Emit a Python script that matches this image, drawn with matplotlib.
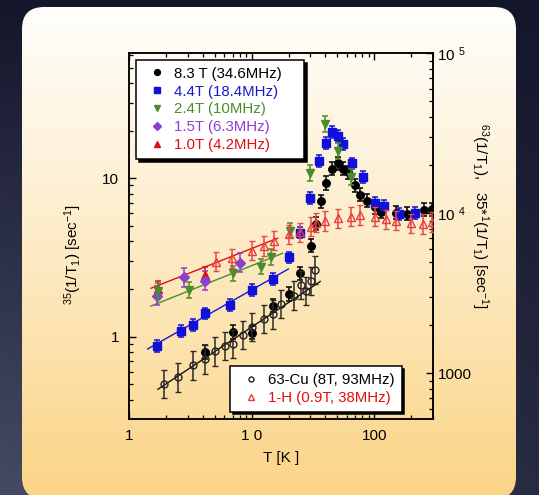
import numpy as np
import matplotlib
matplotlib.use("Agg")
import matplotlib.pyplot as plt
from matplotlib.patches import FancyBboxPatch
from matplotlib.colors import to_rgb
from matplotlib.ticker import FixedLocator, FixedFormatter, LogLocator, NullFormatter

plt.rcParams['font.family'] = ['Liberation Sans', 'DejaVu Sans']
plt.rcParams['mathtext.fontset'] = 'custom'
plt.rcParams['mathtext.rm'] = 'Liberation Sans'
plt.rcParams['mathtext.it'] = 'Liberation Sans:italic'
plt.rcParams['mathtext.default'] = 'regular'

# ---- 35Cl relaxation rate 1/T1 [1/s] (left axis) ----
t_83 = [4.19, 7.01, 10.0, 15.0, 20.2, 25.0, 30.3, 33.2, 36.6, 40.3, 44.9, 50.2,
        55.2, 61.2, 70.2, 76.3, 87.9, 100.7, 113.8, 150, 186, 255, 297]
r_83 = [0.80, 1.07, 1.06, 1.57, 1.86, 2.51, 3.74, 5.15, 7.16, 9.34, 11.5, 12.4,
        11.5, 10.9, 9.03, 7.85, 7.19, 6.56, 6.16, 6.06, 5.98, 6.31, 6.37]

t_44 = [1.70, 2.65, 3.32, 4.19, 6.70, 10.07, 15.0, 20.2, 25.0, 30.1, 35.2, 40.3,
        44.9, 50.5, 55.2, 65.3, 80.4, 100.7, 121, 160, 214]
r_44 = [0.877, 1.09, 1.185, 1.40, 1.585, 1.98, 2.32, 3.16, 4.54, 7.55, 12.9, 16.6,
        19.6, 18.4, 16.4, 12.4, 10.2, 7.02, 6.68, 5.93, 6.01]

t_24 = [1.72, 3.07, 7.01, 12.0, 14.5, 20.7, 30.1, 40.0, 50.5, 64.1]
r_24 = [1.94, 1.97, 2.51, 2.77, 3.17, 4.67, 10.8, 22.0, 14.9, 10.2]

t_15 = [1.70, 2.81, 4.19, 7.98]
r_15 = [1.81, 2.37, 2.26, 2.93]

t_10 = [1.73, 4.19]
r_10 = [2.01, 2.44]

# ---- 63Cu and 1H relaxation rates [1/s] (right axis) ----
t_cu = [1.94, 2.50, 3.30, 4.19, 5.01, 6.01, 7.06, 8.46, 10.07, 12.5, 15.0, 17.5,
        22.2, 25.2, 27.5, 30.3, 32.6]
r_cu = [858, 948, 1122, 1223, 1373, 1483, 1525, 1738, 1950, 2188, 2339, 2713,
        3056, 3565, 3270, 3775, 4424]

t_h = [5.08, 6.97, 10.0, 12.5, 15.1, 20.2, 24.8, 30.3, 33.8, 40.0, 50.2, 64.5,
       76.8, 100.7, 125, 151, 201, 252, 294]
r_h = [4990, 5236, 5847, 6250, 6743, 7390, 7604, 8255, 8745, 8955, 9306, 9531,
       9763, 9531, 9173, 8995, 8660, 8576, 8830]

# relative error of each data set
err_83, err_44, err_24, err_15, err_10, err_cu, err_h = 0.10, 0.09, 0.12, 0.15, 0.12, 0.23, 0.15

# low-temperature power-law fits (left-axis units): start/end temperature and rate
fit_t0 = [1.51, 1.51, 1.42, 1.72]
fit_t1 = [16.3, 17.9, 19.9, 36.3]
fit_r0 = [2.02, 1.56, 0.836, 0.465]
fit_r1 = [4.18, 3.36, 2.67, 2.23]
fit_colors = ['#e01010', '#4b8c2c', '#1414d8', '#111111']

legend1_labels = ['8.3 T (34.6MHz)', '4.4T (18.4MHz)', '2.4T (10MHz)', '1.5T (6.3MHz)', '1.0T (4.2MHz)']
legend2_labels = ['63-Cu (8T, 93MHz)', '1-H (0.9T, 38MHz)']
x_ticks = [1, 10, 100]
x_ticklabels = ['1', '1 0', '100']
yl_ticks = [1, 10]
yl_ticklabels = ['1', '10']
yr_ticks = [1000, 1e4, 1e5]
yr_ticklabels = ['1000', '10 $^4$', '10 $^5$']

W, H = 539, 495
fig = plt.figure(figsize=(W / 100, H / 100), dpi=100)

# ---- backdrop: dark slate with a rounded cream-to-gold card ----
bg = fig.add_axes([0, 0, 1, 1])
bg.set_xlim(0, W)
bg.set_ylim(H, 0)
bg.axis('off')

yy, xx = np.mgrid[0:1:200j, 0:1:200j]
top, bot = np.array(to_rgb('#14162b')), np.array(to_rgb('#454b63'))
mix = np.clip(yy * (1.0 - 0.6 * xx), 0, 1)[..., None]
outer = top * (1 - mix) + bot * mix
bg.imshow(outer, extent=[0, W, H, 0], aspect='auto', interpolation='bicubic', zorder=0)

card_top, card_bot = np.array(to_rgb('#fffefb')), np.array(to_rgb('#fbd485'))
g = np.linspace(0, 1, 256)[:, None, None] ** 1.1
card = card_top * (1 - g) + card_bot * g
card = np.repeat(card, 4, axis=1)
cx0, cy0, cw, ch = 22, 7, 494, 492
im = bg.imshow(card, extent=[cx0, cx0 + cw, cy0 + ch, cy0], aspect='auto',
               interpolation='bicubic', zorder=1)
clip = FancyBboxPatch((cx0, cy0), cw, ch, boxstyle='round,pad=0,rounding_size=22',
                      transform=bg.transData, facecolor='none', edgecolor='none')
bg.add_patch(clip)
im.set_clip_path(clip)

# ---- main axes ----
ax = fig.add_axes([129 / W, 1 - 419 / H, (433.3 - 129) / W, (419 - 53.3) / H])
ax.patch.set_alpha(0)
ax.set_xscale('log')
ax.set_yscale('log')
ax.set_xlim(1, 303)
ax.set_ylim(0.302, 61.5)

ax2 = ax.twinx()
ax2.patch.set_alpha(0)
ax2.set_yscale('log')
ax2.set_ylim(519, 1e5)


def yerr(vals, f):
    v = np.asarray(vals, dtype=float)
    return [v - v / (1 + f), v * f]


for a, b, c, d, col in zip(fit_t0, fit_t1, fit_r0, fit_r1, fit_colors):
    ax.plot([a, b], [c, d], color=col, lw=1.0, zorder=2)

eb = dict(elinewidth=1.1, capsize=2.2, capthick=1.1, ls='none')

ax2.errorbar(t_h, r_h, yerr=yerr(r_h, err_h), fmt='^', ms=5.5, mfc='none', mec='#e63c3c',
             mew=1.0, ecolor='#e64848', **eb, zorder=3)
ax2.errorbar(t_cu, r_cu, yerr=yerr(r_cu, err_cu), fmt='o', ms=5, mfc='none', mec='#222222',
             mew=1.0, ecolor='#2a2a2a', **eb, zorder=3)

ax.errorbar(t_10, r_10, yerr=yerr(r_10, err_10), fmt='^', ms=5.5, color='#e01010', **eb, zorder=4)
ax.errorbar(t_15, r_15, yerr=yerr(r_15, err_15), fmt='D', ms=4.6, color='#8c3fd2', **eb, zorder=4)
ax.errorbar(t_83, r_83, yerr=yerr(r_83, err_83), fmt='o', ms=5.4, color='#000000', **eb, zorder=5)
ax.errorbar(t_44, r_44, yerr=yerr(r_44, err_44), fmt='s', ms=5.4, color='#1010d8', **eb, zorder=5)
ax.errorbar(t_24, r_24, yerr=yerr(r_24, err_24), fmt='v', ms=6, color='#4b8c2c', **eb, zorder=6)

# ---- ticks ----
ax.xaxis.set_major_locator(FixedLocator(x_ticks))
ax.xaxis.set_major_formatter(FixedFormatter(x_ticklabels))
ax.xaxis.set_minor_locator(LogLocator(base=10, subs=np.arange(2, 10), numticks=20))
ax.xaxis.set_minor_formatter(NullFormatter())
ax.yaxis.set_major_locator(FixedLocator(yl_ticks))
ax.yaxis.set_major_formatter(FixedFormatter(yl_ticklabels))
ax.yaxis.set_minor_locator(LogLocator(base=10, subs=np.arange(2, 10), numticks=20))
ax.yaxis.set_minor_formatter(NullFormatter())
ax2.yaxis.set_major_locator(FixedLocator(yr_ticks))
ax2.yaxis.set_major_formatter(FixedFormatter(yr_ticklabels))
ax2.yaxis.set_minor_locator(LogLocator(base=10, subs=np.arange(2, 10), numticks=20))
ax2.yaxis.set_minor_formatter(NullFormatter())

ax.tick_params(axis='x', which='both', direction='in', top=True, labelsize=11, pad=7)
ax.tick_params(axis='y', which='both', direction='in', right=False, labelsize=11, pad=7)
ax2.tick_params(axis='y', which='both', direction='in', labelsize=11, pad=3)
for a_ in (ax, ax2):
    a_.tick_params(which='major', length=5, width=1.0)
    a_.tick_params(which='minor', length=3, width=0.9)
for s in ax.spines.values():
    s.set_linewidth(1.1)
for s in ax2.spines.values():
    s.set_linewidth(1.1)

ax.set_xlabel('T [K ]', fontsize=11, labelpad=6)
ax.set_ylabel(r'$^{35}$(1/T$_1$) [sec$^{-1}$]', fontsize=11)
ax.yaxis.set_label_coords(-0.148, 0.45)
ax2.set_ylabel(r'$^{63}$(1/T$_1$),   35*$^1$(1/T$_1$) [sec$^{-1}$]', fontsize=11, rotation=270,
               va='center')
ax2.yaxis.set_label_coords(1.152, 0.555)

# ---- legends ----
h1 = [
    plt.Line2D([], [], ls='none', marker='o', ms=4.2, color='#000000'),
    plt.Line2D([], [], ls='none', marker='s', ms=4.2, color='#1010d8'),
    plt.Line2D([], [], ls='none', marker='v', ms=5, color='#4b8c2c'),
    plt.Line2D([], [], ls='none', marker='D', ms=3.8, color='#8c3fd2'),
    plt.Line2D([], [], ls='none', marker='^', ms=5, color='#e01010'),
]
leg_kw = dict(borderaxespad=0, fontsize=10.8, handlelength=1.9, handletextpad=0.2,
              labelspacing=0.26, borderpad=0.45, fancybox=False, framealpha=1,
              edgecolor='black', shadow={'color': 'black', 'alpha': 1})
leg1 = ax2.legend(h1, legend1_labels, loc='upper left', mode='expand',
                  bbox_to_anchor=(0.0223, 0.0, 0.553, 0.982),
                  labelcolor=['#000000', '#1a1ac8', '#4b8c2c', '#8c3fd2', '#e01010'], **leg_kw)
leg1.get_frame().set_linewidth(1.1)
leg1.set_zorder(10)
ax2.add_artist(leg1)

h2 = [
    plt.Line2D([], [], ls='none', marker='o', ms=3.6, mfc='none', mec='#222222', mew=1.0),
    plt.Line2D([], [], ls='none', marker='^', ms=4.2, mfc='none', mec='#e63c3c', mew=1.0),
]
leg2 = ax2.legend(h2, legend2_labels, loc='lower right', bbox_to_anchor=(0.896, 0.02),
                  labelcolor=['#000000', '#e01010'], **leg_kw)
leg2.get_frame().set_linewidth(1.1)
leg2.set_zorder(10)

fig.savefig('out.png', dpi=100)
